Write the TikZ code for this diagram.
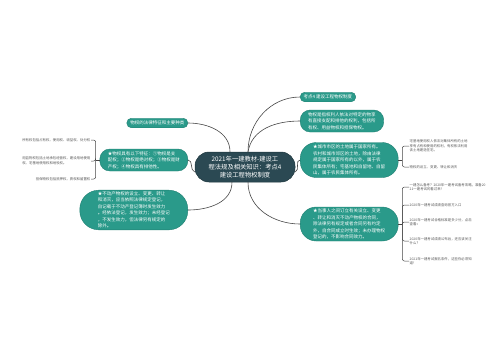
\documentclass[tikz,border=0pt]{standalone}
\usepackage{fontspec}
\setmainfont{Noto Sans CJK SC}
\definecolor{tealfill}{HTML}{2A9A8A}
\definecolor{tealedge}{HTML}{1F7F72}
\definecolor{centerfill}{HTML}{2B4953}
\definecolor{centeredge}{HTML}{1E363D}
\definecolor{linec}{HTML}{454545}
\definecolor{leaftext}{HTML}{555555}
\tikzset{
  box/.style={fill=tealfill, draw=tealedge, line width=0.4pt, text=white, align=left,
    inner ysep=1.5pt, font=\fontsize{4.5}{6.5}\selectfont},
  pill/.style={box, rounded corners=4.5pt, inner xsep=3.5pt, inner ysep=1pt, minimum height=9.5pt},
  cbox/.style={fill=centerfill, draw=centeredge, line width=0.5pt, text=white, align=center,
    rounded corners=14pt, minimum width=100pt, minimum height=30pt, inner sep=1pt,
    font=\fontsize{6.3}{8}\selectfont},
  leaf/.style={text=leaftext, align=left, inner sep=0.5pt, font=\fontsize{3.4}{4.6}\selectfont},
  conn/.style={draw=linec, line width=0.6pt},
  brk/.style={draw=linec, line width=0.5pt, rounded corners=2pt}
}
\begin{document}
\begin{tikzpicture}[x=1pt,y=-1pt]
\useasboundingbox (0,0) rectangle (500,360);

% centre
\node[cbox] (c) at (245,167) {2021年一建教材-建设工\\程法规及相关知识：考点4\\建设工程物权制度};

% right side
\node[pill, anchor=west] (r1) at (300,97) {考点4 建设工程物权制度};
\node[box, anchor=west, rounded corners=10pt, minimum height=22pt, inner xsep=8pt] (r2) at (300,121)
  {物权是指权利人依法对特定的物享\\有直接支配和排他的权利，包括所\\有权、用益物权和担保物权。};
\node[box, anchor=west, rounded corners=16pt, minimum height=35pt, inner xsep=13pt] (r3) at (300,160)
  {★城市市区的土地属于国家所有。\\农村和城市郊区的土地，除由法律\\规定属于国家所有的以外，属于农\\民集体所有；宅基地和自留地、自留\\山，属于农民集体所有。};
\node[box, anchor=west, rounded corners=16pt, minimum height=34pt, inner xsep=13pt] (r4) at (300,224)
  {★当事人之间订立有关设立、变更\\、转让和消灭不动产物权的合同，\\除法律另有规定或者合同另有约定\\外，自合同成立时生效；未办理物权\\登记的，不影响合同效力。};

% left side
\node[pill, anchor=east] (l1) at (188,123) {物权的法律特征和主要种类};
\node[box, anchor=east, rounded corners=10pt, minimum height=22pt, inner xsep=8pt] (l2) at (188,160)
  {★物权具有以下特征：①物权是支\\配权；②物权是绝对权；③物权是财\\产权；④物权具有排他性。};
\node[box, anchor=east, rounded corners=19pt, minimum height=39pt, inner xsep=18pt] (l3) at (188,210)
  {★不动产物权的设立、变更、转让\\和消灭，应当依照法律规定登记，\\自记载于不动产登记簿时发生效力\\。经依法登记，发生效力；未经登记\\，不发生效力，但法律另有规定的\\除外。};

% connectors from centre
\draw[conn] ([xshift=3pt]c.north) to[out=90,in=180] (r1.west);
\draw[conn] ([xshift=3pt]c.north) to[out=80,in=180] (r2.west);
\draw[conn] ([yshift=-5pt]c.east) to[out=20,in=180] (r3.west);
\draw[conn] ([xshift=3pt]c.south) to[out=-90,in=180] (r4.west);
\draw[conn] ([xshift=-15pt]c.north) to[out=90,in=0] (l1.east);
\draw[conn] ([yshift=-5pt]c.west) to[out=165,in=0] (l2.east);
\draw[conn] ([xshift=-13pt]c.south) to[out=-90,in=0] (l3.east);

% leaves of r3
\node[leaf, anchor=west] (r3a) at (409,146) {宅基地使用权人依法对集体所有的土地\\享有占有和使用的权利，有权依法利用\\该土地建造住宅。};
\node[leaf, anchor=west] (r3b) at (409,167) {物权的设立、变更、转让和消灭};
\coordinate (j3) at ([xshift=4pt]r3.east);
\draw[brk] (r3.east) -- (j3);
\draw[brk] (j3) |- (r3a.west);
\draw[brk] (j3) |- (r3b.west);

% leaves of r4
\node[leaf, anchor=west] (r4a) at (409,187) {一建怎么备考？2020年一建考试备考攻略，准备20\\21一建考试的看过来！};
\node[leaf, anchor=west] (r4b) at (409,205) {2020年一建考试成绩查询官方入口};
\node[leaf, anchor=west] (r4c) at (409,222) {2020年一建考试合格标准是多少分，点击\\查看>>};
\node[leaf, anchor=west] (r4d) at (409,241) {2020年一建考试成绩公布后，还应该关注\\什么？};
\node[leaf, anchor=west] (r4e) at (409,261) {2021年一建考试报名条件，这些你必须知\\道！};
\coordinate (j4) at ([xshift=4pt]r4.east);
\draw[brk] (r4.east) -- (j4);
\foreach \n in {r4a,r4b,r4c,r4d,r4e} \draw[brk] (j4) |- (\n.west);

% leaves of l2
\node[leaf, anchor=east] (l2a) at (91,140) {所有权包括占有权、使用权、收益权、处分权};
\node[leaf, anchor=east] (l2b) at (91,161) {用益物权包括土地承包经营权、建设用地使用\\权、宅基地使用权和地役权。};
\node[leaf, anchor=east] (l2c) at (91,179) {担保物权包括抵押权、质权和留置权};
\coordinate (j2) at ([xshift=-4pt]l2.west);
\draw[brk] (l2.west) -- (j2);
\foreach \n in {l2a,l2b,l2c} \draw[brk] (j2) |- (\n.east);
\end{tikzpicture}
\end{document}
